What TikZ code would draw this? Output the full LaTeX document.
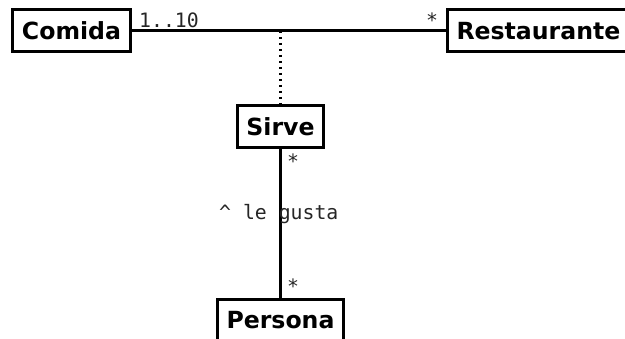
\documentclass[tikz,border=0pt]{standalone}
\usepackage{fontspec}
\newfontfamily\classfont{DejaVu Sans}
\newfontfamily\rolefont{DejaVu Sans Mono}
\usetikzlibrary{positioning}

\begin{document}
\begin{tikzpicture}[x=1pt,y=-1pt,
  class/.style={draw=cbox,fill=white,line width=3pt,inner xsep=9pt,minimum height=42pt,font=\classfont\bfseries\fontsize{23.6}{28}\selectfont},
  role/.style={text=ctext,inner sep=0pt,font=\rolefont\fontsize{19.8}{23}\selectfont},
  assoc/.style={draw=cline,line width=3pt}]
%
\useasboundingbox (0,0) rectangle (625,339);
%
\definecolor{cbox}{rgb}{0.0,0.0,0.0}
\definecolor{cline}{rgb}{0.0,0.0,0.0}
\definecolor{ctext}{rgb}{0.15,0.15,0.15}
%
\node[class] (comida) at (71.5,31) {Comida};
\node[class,anchor=west] (restaurante) at (446,31) {Restaurante};
\node[class] (sirve) at (280.5,127) {Sirve};
\node[class,anchor=north] (persona) at (280.5,298) {Persona};
%
\coordinate (servicio) at (sirve |- comida.east);
%
\draw[assoc] (comida.east) -- (restaurante.west);
\draw[assoc,line width=2.5pt,dash pattern=on 2.5pt off 3.5pt] (servicio) -- (sirve.north);
\draw[assoc] (sirve.south) -- (persona.north);
%
\node[role,anchor=base west] (mcomida) at (139,27.5) {1..10};
\node[role,anchor=base] (mrestaurante) at (432,27.5) {*};
\node[role,anchor=base] (msirve) at (293,168.5) {*};
\node[role,anchor=base] (mpersona) at (293,293.5) {*};
\node[role,anchor=base west] (legusta) at (219,220) {\^{} le gusta};
%
\end{tikzpicture}
\end{document}
